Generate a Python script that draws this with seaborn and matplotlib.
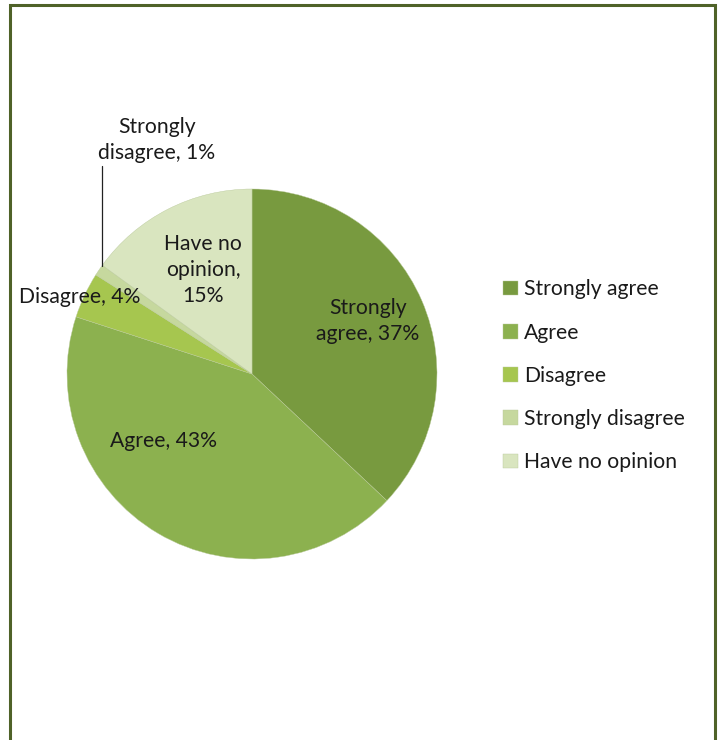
import matplotlib
matplotlib.use("Agg")
import matplotlib.pyplot as plt
from matplotlib.patches import Rectangle
import seaborn as sns

categories = ["Strongly agree", "Agree", "Disagree", "Strongly disagree", "Have no opinion"]
shares = [37, 43, 4, 1, 15]
colors = ["#789A3F", "#8CB14F", "#A6C64F", "#C6D89E", "#D9E5BF"]
label_text = ["Strongly\nagree, 37%", "Agree, 43%", "Disagree, 4%",
              "Strongly\ndisagree, 1%", "Have no\nopinion,\n15%"]

sns.set_theme(style="white")
plt.rcParams["font.family"] = ["Lato", "DejaVu Sans"]

W, H = 719, 740
fig = plt.figure(figsize=(W / 100, H / 100), dpi=100)
ax = fig.add_axes([0, 0, 1, 1])

cx, cy, r = 252, H - 374, 185
wedges, _ = ax.pie(shares, colors=colors, startangle=90, counterclock=False,
                   center=(cx, cy), radius=r, frame=True,
                   wedgeprops=dict(edgecolor="#B9C99A", linewidth=0.3))
ax.set_xlim(0, W)
ax.set_ylim(0, H)
ax.set_aspect("equal")
ax.axis("off")

# slice labels
fs = 15.2
pos = [(368, 321), (163, 441), (80, 297), (157, 140), (203, 270)]
for txt, (x, y) in zip(label_text, pos):
    ax.text(x, H - y, txt, ha="center", va="center", fontsize=fs,
            color="#1A1A1A", linespacing=1.38)

# leader line for the small slice
ax.plot([102, 102], [H - 166, H - 266], color="#222222", lw=0.9)

# legend
leg = ax.legend(wedges, categories, loc="upper left",
                bbox_to_anchor=(495 / W, 1 - 271 / H), frameon=False,
                fontsize=fs, handlelength=0.68, handleheight=0.68,
                handletextpad=0.3, labelspacing=1.1, borderaxespad=0)
for t in leg.get_texts():
    t.set_color("#1A1A1A")

# outer frame
ax.add_patch(Rectangle((9.5, -20), 705, H - 4.5 + 20, fill=False,
                       edgecolor="#4F6228", linewidth=2.2, clip_on=False))

fig.savefig("out.png", dpi=100)
